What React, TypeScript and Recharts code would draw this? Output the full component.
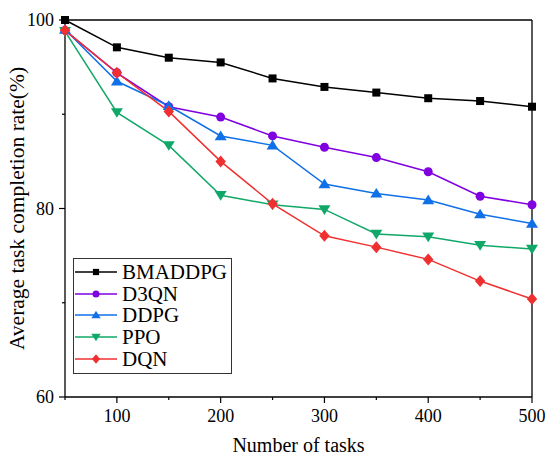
import { Label, Legend, Line, LineChart, ReferenceLine, XAxis, YAxis } from "recharts";

const tasks = [50, 100, 150, 200, 250, 300, 350, 400, 450, 500];
const bmaddpg = [100, 97.1, 96.0, 95.5, 93.8, 92.9, 92.3, 91.7, 91.4, 90.8];
const d3qn = [98.9, 94.4, 90.8, 89.7, 87.7, 86.5, 85.4, 83.9, 81.3, 80.4];
const ddpg = [99.0, 93.5, 90.9, 87.7, 86.7, 82.6, 81.6, 80.9, 79.4, 78.4];
const ppo = [98.8, 90.2, 86.7, 81.4, 80.4, 79.9, 77.3, 77.0, 76.1, 75.7];
const dqn = [98.9, 94.4, 90.3, 85.0, 80.5, 77.1, 75.9, 74.6, 72.3, 70.4];

const xTicks = [50, 100, 150, 200, 250, 300, 350, 400, 450, 500];
const yTicks = [60, 70, 80, 90, 100];

type Shape = "square" | "circle" | "triangle" | "triangleDown" | "diamond";

const series: { key: string; name: string; color: string; shape: Shape }[] = [
  { key: "bmaddpg", name: "BMADDPG", color: "#000000", shape: "square" },
  { key: "d3qn", name: "D3QN", color: "#8000e0", shape: "circle" },
  { key: "ddpg", name: "DDPG", color: "#1070e8", shape: "triangle" },
  { key: "ppo", name: "PPO", color: "#10a868", shape: "triangleDown" },
  { key: "dqn", name: "DQN", color: "#f03030", shape: "diamond" },
];

const data = tasks.map((t, i) => ({
  tasks: t,
  bmaddpg: bmaddpg[i],
  d3qn: d3qn[i],
  ddpg: ddpg[i],
  ppo: ppo[i],
  dqn: dqn[i],
}));

const FONT = "'Liberation Serif', 'Times New Roman', serif";

function Marker({ cx, cy, shape, color, s }: { cx: number; cy: number; shape: Shape; color: string; s: number }) {
  if (shape === "square") return <rect x={cx - s / 2} y={cy - s / 2} width={s} height={s} fill={color} />;
  if (shape === "circle") return <circle cx={cx} cy={cy} r={s / 2} fill={color} />;
  if (shape === "triangle")
    return <polygon points={`${cx},${cy - s * 0.55} ${cx - s * 0.6},${cy + s * 0.42} ${cx + s * 0.6},${cy + s * 0.42}`} fill={color} />;
  if (shape === "triangleDown")
    return <polygon points={`${cx},${cy + s * 0.55} ${cx - s * 0.6},${cy - s * 0.42} ${cx + s * 0.6},${cy - s * 0.42}`} fill={color} />;
  return <polygon points={`${cx},${cy - s * 0.6} ${cx + s * 0.52},${cy} ${cx},${cy + s * 0.6} ${cx - s * 0.52},${cy}`} fill={color} />;
}

const dotSize: Record<Shape, number> = { square: 8, circle: 9, triangle: 10, triangleDown: 10, diamond: 10 };

const XTick = ({ x, y, payload }: any) => {
  const major = payload.value % 100 === 0;
  return (
    <g>
      <line x1={x} x2={x} y1={y} y2={y + (major ? 6 : 3)} stroke="#000" strokeWidth={1.2} />
      {major && (
        <text x={x} y={y + 25} textAnchor="middle" fontSize={18} fontFamily={FONT} fill="#000">
          {payload.value}
        </text>
      )}
    </g>
  );
};

const YTick = ({ x, y, payload }: any) => {
  const major = payload.value % 20 === 0;
  return (
    <g>
      <line x1={x} x2={x - (major ? 6 : 3)} y1={y} y2={y} stroke="#000" strokeWidth={1.2} />
      {major && (
        <text x={x - 11} y={y + 6} textAnchor="end" fontSize={18} fontFamily={FONT} fill="#000">
          {payload.value}
        </text>
      )}
    </g>
  );
};

const LegendBox = () => (
  <div
    style={{
      border: "1px solid #333",
      background: "#fff",
      padding: "2px 4px 3px 1px",
      fontFamily: FONT,
      fontSize: 21,
      color: "#000",
    }}
  >
    {series.map((s) => (
      <div key={s.key} style={{ display: "flex", alignItems: "center", height: 21.8 }}>
        <svg width={42} height={20} style={{ display: "block" }}>
          <line x1={0} x2={42} y1={10} y2={10} stroke={s.color} strokeWidth={1.5} />
          <Marker cx={21} cy={10} shape={s.shape} color={s.color} s={dotSize[s.shape] * 0.78} />
        </svg>
        <span style={{ marginLeft: 5, lineHeight: "20px" }}>{s.name}</span>
      </div>
    ))}
  </div>
);

export default function App() {
  return (
    <div style={{ position: "absolute", left: 0, top: 0, width: 550, height: 458, background: "#fff" }}>
      <LineChart width={550} height={458} data={data} margin={{ top: 20, right: 18, left: 0, bottom: 0 }}>
        <XAxis
          dataKey="tasks"
          type="number"
          domain={[50, 500]}
          ticks={xTicks}
          interval={0}
          tickSize={0}
          tickMargin={0}
          tickLine={false}
          tick={<XTick />}
          height={61}
          stroke="#000"
          strokeWidth={1.3}
        >
          <Label value="Number of tasks" position="insideBottom" offset={6} fontSize={20} fontFamily={FONT} fill="#000" />
        </XAxis>
        <YAxis
          type="number"
          domain={[60, 100]}
          ticks={yTicks}
          interval={0}
          tickSize={0}
          tickMargin={0}
          tickLine={false}
          tick={<YTick />}
          width={65}
          stroke="#000"
          strokeWidth={1.3}
        >
          <Label
            value="Average task completion rate(%)"
            position="insideLeft"
            angle={-90}
            offset={16}
            fontSize={21.5}
            fontFamily={FONT}
            fill="#000"
            style={{ textAnchor: "middle" }}
          />
        </YAxis>
        <ReferenceLine y={100} stroke="#000" strokeWidth={1.3} />
        <ReferenceLine x={500} stroke="#000" strokeWidth={1.3} />
        {series.map((s) => (
          <Line
            key={s.key}
            dataKey={s.key}
            name={s.name}
            stroke={s.color}
            strokeWidth={1.5}
            isAnimationActive={false}
            dot={(p: any) => (
              <Marker key={`${s.key}-${p.index}`} cx={p.cx} cy={p.cy} shape={s.shape} color={s.color} s={dotSize[s.shape]} />
            )}
            activeDot={false}
          />
        ))}
        <Legend
          layout="vertical"
          align="center"
          verticalAlign="middle"
          content={<LegendBox />}
          wrapperStyle={{ left: 73, top: 258, width: "auto", height: "auto" }}
        />
      </LineChart>
    </div>
  );
}
